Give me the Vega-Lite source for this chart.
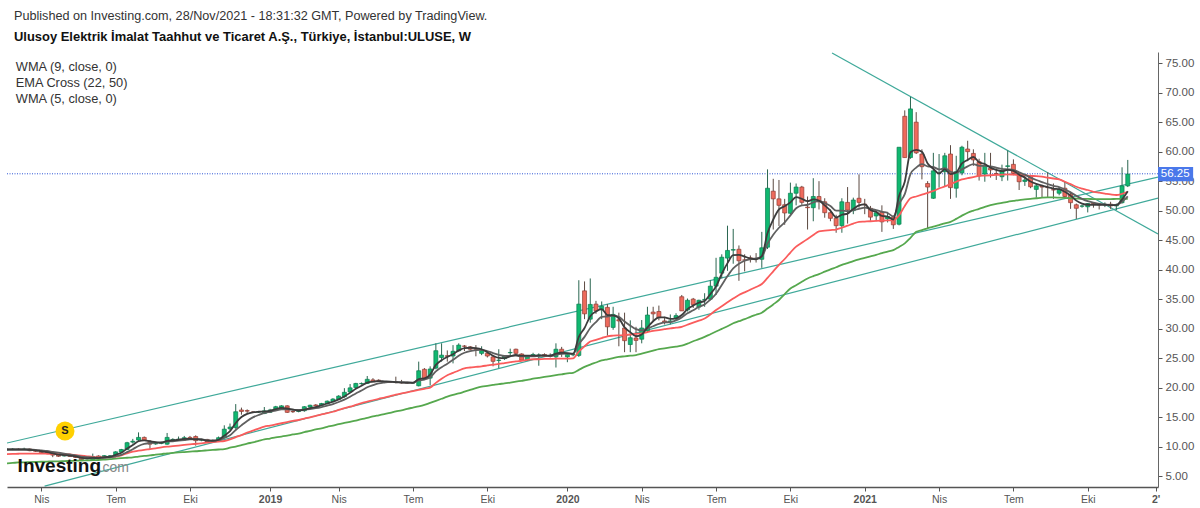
{
"$schema":"https://vega.github.io/schema/vega-lite/v6.json",
"width":1151,"height":435,
"autosize":{"type":"none"},
"padding":{"left":7,"top":52,"right":42,"bottom":21},
"background":"white",
"config":{"view":{"stroke":null},"font":"Liberation Sans"},
"title":{"text":"Published on Investing.com, 28/Nov/2021 - 18:31:32 GMT, Powered by TradingView.","subtitle":"Ulusoy Elektrik İmalat Taahhut ve Ticaret A.Ş., Türkiye, İstanbul:ULUSE, W","anchor":"start","frame":"group","dx":7,"offset":8,"font":"Liberation Sans","fontSize":12.65,"fontWeight":"normal","color":"#333","subtitleFont":"Liberation Sans","subtitleFontSize":12.95,"subtitleFontWeight":"bold","subtitleColor":"#111","subtitlePadding":8},
"datasets":{
"trends":[
{"trend":"upper","date":"2018-02-19","price":10.6},{"trend":"upper","date":"2021-12-29","price":55.7},
{"trend":"lower","date":"2018-04-06","price":3.3},{"trend":"lower","date":"2021-12-29","price":52.14},
{"trend":"falling","date":"2020-11-25","price":76.73},{"trend":"falling","date":"2021-12-29","price":46.04}
],
"notes":[
{"label":"Investing","date":"2018-03-04","price":5.7,"group":"logo"},
{"label":".com","date":"2018-06-11","price":5.7,"group":"dotcom"},
{"label":"S","date":"2018-05-01","price":12.63,"group":"signal"}
]
},
"data":{"values":[
{"date":"2018-02-19","open":9.45,"high":9.7,"low":9.35,"close":9.5,"wma9":9.5,"wma5":9.5,"ema22":8.73,"ema50":7.15},
{"date":"2018-02-26","open":9.5,"high":9.75,"low":9.4,"close":9.55,"wma9":9.5,"wma5":9.5,"ema22":8.75,"ema50":7.22},
{"date":"2018-03-05","open":9.55,"high":9.7,"low":9.4,"close":9.5,"wma9":9.5,"wma5":9.5,"ema22":8.78,"ema50":7.3},
{"date":"2018-03-12","open":9.5,"high":9.8,"low":9.4,"close":9.55,"wma9":9.5,"wma5":9.5,"ema22":8.8,"ema50":7.33},
{"date":"2018-03-19","open":9.57,"high":9.7,"low":9.2,"close":9.3,"wma9":9.5,"wma5":9.45,"ema22":8.8,"ema50":7.36},
{"date":"2018-03-26","open":9.4,"high":9.5,"low":9.1,"close":9.2,"wma9":9.45,"wma5":9.36,"ema22":8.8,"ema50":7.39},
{"date":"2018-04-02","open":9.3,"high":9.4,"low":8.85,"close":8.95,"wma9":9.35,"wma5":9.2,"ema22":8.8,"ema50":7.42},
{"date":"2018-04-09","open":9.12,"high":9.2,"low":8.75,"close":8.85,"wma9":9.25,"wma5":9.05,"ema22":8.78,"ema50":7.45},
{"date":"2018-04-16","open":8.95,"high":9.05,"low":8.2,"close":8.55,"wma9":9.1,"wma5":8.85,"ema22":8.75,"ema50":7.48},
{"date":"2018-04-23","open":8.6,"high":8.7,"low":8.25,"close":8.35,"wma9":8.95,"wma5":8.64,"ema22":8.73,"ema50":7.5},
{"date":"2018-04-30","open":8.4,"high":8.7,"low":8.3,"close":8.5,"wma9":8.8,"wma5":8.55,"ema22":8.7,"ema50":7.53},
{"date":"2018-05-07","open":8.4,"high":8.5,"low":8.25,"close":8.35,"wma9":8.65,"wma5":8.45,"ema22":8.65,"ema50":7.56},
{"date":"2018-05-14","open":8.25,"high":8.35,"low":8.05,"close":8.15,"wma9":8.5,"wma5":8.33,"ema22":8.55,"ema50":7.6},
{"date":"2018-05-21","open":8.17,"high":8.25,"low":7.65,"close":7.75,"wma9":8.3,"wma5":8.07,"ema22":8.45,"ema50":7.63},
{"date":"2018-05-28","open":7.95,"high":8.2,"low":7.8,"close":8.0,"wma9":8.2,"wma5":8.0,"ema22":8.35,"ema50":7.66},
{"date":"2018-06-04","open":7.75,"high":8.8,"low":7.7,"close":8.3,"wma9":8.15,"wma5":8.07,"ema22":8.25,"ema50":7.69},
{"date":"2018-06-11","open":8.4,"high":8.5,"low":7.9,"close":8.0,"wma9":8.1,"wma5":8.05,"ema22":8.17,"ema50":7.72},
{"date":"2018-06-18","open":8.05,"high":8.55,"low":8.0,"close":8.45,"wma9":8.1,"wma5":8.2,"ema22":8.18,"ema50":7.78},
{"date":"2018-06-25","open":8.4,"high":8.55,"low":8.3,"close":8.4,"wma9":8.15,"wma5":8.27,"ema22":8.22,"ema50":7.85},
{"date":"2018-07-02","open":8.5,"high":9.2,"low":8.4,"close":9.1,"wma9":8.35,"wma5":8.6,"ema22":8.28,"ema50":7.95},
{"date":"2018-07-09","open":9.05,"high":9.6,"low":9.0,"close":9.5,"wma9":8.6,"wma5":8.95,"ema22":8.5,"ema50":8.03},
{"date":"2018-07-16","open":9.5,"high":10.8,"low":9.4,"close":10.65,"wma9":9.05,"wma5":9.65,"ema22":8.85,"ema50":8.1},
{"date":"2018-07-23","open":10.75,"high":11.3,"low":10.5,"close":10.9,"wma9":9.55,"wma5":10.25,"ema22":9.12,"ema50":8.17},
{"date":"2018-07-30","open":11.1,"high":12.4,"low":10.9,"close":11.55,"wma9":10.1,"wma5":10.9,"ema22":9.3,"ema50":8.3},
{"date":"2018-08-06","open":11.55,"high":11.7,"low":11.0,"close":11.1,"wma9":10.45,"wma5":11.05,"ema22":9.45,"ema50":8.4},
{"date":"2018-08-13","open":10.9,"high":11.1,"low":9.6,"close":10.4,"wma9":10.6,"wma5":10.9,"ema22":9.57,"ema50":8.5},
{"date":"2018-08-20","open":10.45,"high":10.7,"low":10.3,"close":10.5,"wma9":10.65,"wma5":10.75,"ema22":9.7,"ema50":8.62},
{"date":"2018-08-27","open":10.55,"high":10.8,"low":10.4,"close":10.6,"wma9":10.7,"wma5":10.65,"ema22":9.85,"ema50":8.73},
{"date":"2018-09-03","open":10.4,"high":12.3,"low":10.3,"close":11.55,"wma9":10.85,"wma5":10.95,"ema22":9.97,"ema50":8.85},
{"date":"2018-09-10","open":11.2,"high":11.4,"low":11.0,"close":11.2,"wma9":10.9,"wma5":11.05,"ema22":10.07,"ema50":8.92},
{"date":"2018-09-17","open":11.2,"high":11.7,"low":11.1,"close":11.25,"wma9":11.0,"wma5":11.15,"ema22":10.17,"ema50":9.0},
{"date":"2018-09-24","open":11.2,"high":11.8,"low":11.1,"close":11.5,"wma9":11.1,"wma5":11.3,"ema22":10.27,"ema50":9.07},
{"date":"2018-10-01","open":11.55,"high":11.8,"low":11.2,"close":11.3,"wma9":11.2,"wma5":11.3,"ema22":10.37,"ema50":9.14},
{"date":"2018-10-08","open":11.7,"high":11.9,"low":10.15,"close":11.0,"wma9":11.2,"wma5":11.25,"ema22":10.47,"ema50":9.2},
{"date":"2018-10-15","open":11.1,"high":11.3,"low":10.9,"close":11.1,"wma9":11.2,"wma5":11.2,"ema22":10.55,"ema50":9.28},
{"date":"2018-10-22","open":11.2,"high":11.3,"low":10.7,"close":10.8,"wma9":11.1,"wma5":11.0,"ema22":10.65,"ema50":9.35},
{"date":"2018-10-29","open":10.9,"high":11.2,"low":10.7,"close":10.9,"wma9":11.05,"wma5":10.95,"ema22":10.75,"ema50":9.42},
{"date":"2018-11-05","open":11.1,"high":11.7,"low":11.0,"close":11.5,"wma9":11.1,"wma5":11.15,"ema22":10.85,"ema50":9.5},
{"date":"2018-11-12","open":11.55,"high":13.6,"low":11.4,"close":12.95,"wma9":11.45,"wma5":11.85,"ema22":10.94,"ema50":9.57},
{"date":"2018-11-19","open":13.0,"high":13.9,"low":12.8,"close":13.3,"wma9":11.9,"wma5":12.6,"ema22":11.2,"ema50":9.8},
{"date":"2018-11-26","open":13.2,"high":17.2,"low":13.0,"close":15.9,"wma9":12.8,"wma5":14.0,"ema22":11.6,"ema50":10.0},
{"date":"2018-12-03","open":16.2,"high":16.6,"low":15.4,"close":15.95,"wma9":13.6,"wma5":15.0,"ema22":11.95,"ema50":10.25},
{"date":"2018-12-10","open":16.1,"high":16.3,"low":15.7,"close":16.0,"wma9":14.35,"wma5":15.55,"ema22":12.35,"ema50":10.5},
{"date":"2018-12-17","open":15.85,"high":16.0,"low":15.7,"close":15.8,"wma9":14.95,"wma5":15.8,"ema22":12.7,"ema50":10.7},
{"date":"2018-12-24","open":15.85,"high":16.0,"low":15.7,"close":15.9,"wma9":15.35,"wma5":15.9,"ema22":13.05,"ema50":10.95},
{"date":"2018-12-31","open":15.6,"high":16.7,"low":15.5,"close":16.05,"wma9":15.7,"wma5":15.95,"ema22":13.37,"ema50":11.2},
{"date":"2019-01-07","open":15.8,"high":16.4,"low":15.7,"close":16.2,"wma9":15.9,"wma5":16.05,"ema22":13.55,"ema50":11.35},
{"date":"2019-01-14","open":16.2,"high":16.9,"low":16.1,"close":16.75,"wma9":16.1,"wma5":16.35,"ema22":13.75,"ema50":11.55},
{"date":"2019-01-21","open":16.5,"high":17.0,"low":16.4,"close":16.9,"wma9":16.3,"wma5":16.55,"ema22":13.95,"ema50":11.7},
{"date":"2019-01-28","open":16.9,"high":17.0,"low":15.7,"close":15.8,"wma9":16.3,"wma5":16.45,"ema22":14.15,"ema50":11.85},
{"date":"2019-02-04","open":15.95,"high":16.1,"low":15.7,"close":15.9,"wma9":16.25,"wma5":16.25,"ema22":14.35,"ema50":12.05},
{"date":"2019-02-11","open":15.95,"high":16.3,"low":15.8,"close":16.0,"wma9":16.2,"wma5":16.1,"ema22":14.5,"ema50":12.2},
{"date":"2019-02-18","open":16.07,"high":16.85,"low":15.9,"close":16.75,"wma9":16.25,"wma5":16.25,"ema22":14.75,"ema50":12.45},
{"date":"2019-02-25","open":16.7,"high":17.1,"low":16.6,"close":17.0,"wma9":16.35,"wma5":16.5,"ema22":14.95,"ema50":12.65},
{"date":"2019-03-04","open":17.05,"high":17.2,"low":16.8,"close":16.9,"wma9":16.5,"wma5":16.7,"ema22":15.2,"ema50":12.9},
{"date":"2019-03-11","open":17.0,"high":17.4,"low":16.9,"close":17.3,"wma9":16.7,"wma5":17.0,"ema22":15.45,"ema50":13.1},
{"date":"2019-03-18","open":17.26,"high":17.8,"low":17.2,"close":17.7,"wma9":16.95,"wma5":17.3,"ema22":15.65,"ema50":13.35},
{"date":"2019-03-25","open":17.6,"high":18.2,"low":17.5,"close":18.05,"wma9":17.2,"wma5":17.6,"ema22":15.9,"ema50":13.55},
{"date":"2019-04-01","open":18.0,"high":18.7,"low":17.9,"close":18.55,"wma9":17.55,"wma5":18.0,"ema22":16.2,"ema50":13.8},
{"date":"2019-04-08","open":18.45,"high":19.9,"low":18.3,"close":19.2,"wma9":17.95,"wma5":18.5,"ema22":16.5,"ema50":14.0},
{"date":"2019-04-15","open":19.25,"high":20.6,"low":19.1,"close":19.95,"wma9":18.45,"wma5":19.1,"ema22":16.75,"ema50":14.2},
{"date":"2019-04-22","open":20.0,"high":20.8,"low":19.9,"close":20.7,"wma9":19.0,"wma5":19.8,"ema22":17.05,"ema50":14.4},
{"date":"2019-04-29","open":20.65,"high":20.85,"low":20.5,"close":20.7,"wma9":19.5,"wma5":20.3,"ema22":17.35,"ema50":14.65},
{"date":"2019-05-06","open":20.7,"high":21.96,"low":20.6,"close":21.4,"wma9":20.05,"wma5":20.85,"ema22":17.6,"ema50":14.85},
{"date":"2019-05-13","open":21.3,"high":21.6,"low":20.9,"close":21.0,"wma9":20.4,"wma5":21.0,"ema22":17.85,"ema50":15.1},
{"date":"2019-05-20","open":21.25,"high":21.4,"low":21.0,"close":21.2,"wma9":20.7,"wma5":21.1,"ema22":18.1,"ema50":15.3},
{"date":"2019-05-27","open":21.0,"high":21.1,"low":20.8,"close":20.9,"wma9":20.85,"wma5":21.05,"ema22":18.3,"ema50":15.5},
{"date":"2019-06-03","open":21.0,"high":21.1,"low":20.8,"close":20.9,"wma9":20.95,"wma5":21.0,"ema22":18.55,"ema50":15.7},
{"date":"2019-06-10","open":20.9,"high":21.85,"low":20.75,"close":20.85,"wma9":20.95,"wma5":20.9,"ema22":18.8,"ema50":15.95},
{"date":"2019-06-17","open":20.85,"high":21.3,"low":20.7,"close":20.8,"wma9":20.9,"wma5":20.85,"ema22":19.0,"ema50":16.15},
{"date":"2019-06-24","open":20.85,"high":20.95,"low":20.7,"close":20.8,"wma9":20.9,"wma5":20.8,"ema22":19.2,"ema50":16.4},
{"date":"2019-07-01","open":20.8,"high":20.95,"low":20.7,"close":20.8,"wma9":20.85,"wma5":20.8,"ema22":19.4,"ema50":16.6},
{"date":"2019-07-08","open":20.3,"high":24.4,"low":20.2,"close":22.85,"wma9":21.2,"wma5":21.45,"ema22":19.6,"ema50":16.8},
{"date":"2019-07-15","open":23.1,"high":23.3,"low":21.4,"close":21.6,"wma9":21.35,"wma5":21.55,"ema22":19.8,"ema50":17.05},
{"date":"2019-07-22","open":21.6,"high":23.6,"low":20.4,"close":23.15,"wma9":21.75,"wma5":22.2,"ema22":20.0,"ema50":17.4},
{"date":"2019-07-29","open":23.3,"high":27.5,"low":23.1,"close":26.25,"wma9":22.75,"wma5":23.85,"ema22":20.8,"ema50":17.75},
{"date":"2019-08-05","open":25.1,"high":27.5,"low":24.4,"close":25.5,"wma9":23.45,"wma5":24.65,"ema22":21.5,"ema50":18.1},
{"date":"2019-08-12","open":25.4,"high":26.3,"low":24.4,"close":25.3,"wma9":24.05,"wma5":25.2,"ema22":22.1,"ema50":18.45},
{"date":"2019-08-19","open":25.35,"high":27.2,"low":24.1,"close":26.15,"wma9":24.7,"wma5":25.65,"ema22":22.5,"ema50":18.75},
{"date":"2019-08-26","open":26.25,"high":27.5,"low":26.1,"close":27.2,"wma9":25.4,"wma5":26.3,"ema22":22.9,"ema50":19.0},
{"date":"2019-09-02","open":27.05,"high":27.2,"low":26.2,"close":27.0,"wma9":25.9,"wma5":26.7,"ema22":23.25,"ema50":19.3},
{"date":"2019-09-09","open":26.9,"high":27.05,"low":26.3,"close":26.5,"wma9":26.2,"wma5":26.75,"ema22":23.4,"ema50":19.6},
{"date":"2019-09-16","open":26.55,"high":27.2,"low":25.3,"close":26.5,"wma9":26.35,"wma5":26.7,"ema22":23.5,"ema50":19.9},
{"date":"2019-09-23","open":25.8,"high":27.0,"low":25.5,"close":26.25,"wma9":26.4,"wma5":26.5,"ema22":23.6,"ema50":20.15},
{"date":"2019-09-30","open":25.8,"high":26.0,"low":25.1,"close":25.35,"wma9":26.2,"wma5":26.0,"ema22":23.75,"ema50":20.3},
{"date":"2019-10-07","open":25.2,"high":25.4,"low":23.6,"close":24.45,"wma9":25.85,"wma5":25.4,"ema22":23.9,"ema50":20.45},
{"date":"2019-10-14","open":24.6,"high":26.5,"low":23.3,"close":24.65,"wma9":25.55,"wma5":25.05,"ema22":24.0,"ema50":20.6},
{"date":"2019-10-21","open":24.9,"high":25.5,"low":24.7,"close":25.35,"wma9":25.35,"wma5":25.0,"ema22":24.15,"ema50":20.7},
{"date":"2019-10-28","open":25.9,"high":26.6,"low":25.4,"close":25.95,"wma9":25.35,"wma5":25.3,"ema22":24.3,"ema50":20.85},
{"date":"2019-11-04","open":26.5,"high":26.6,"low":25.6,"close":25.8,"wma9":25.4,"wma5":25.55,"ema22":24.45,"ema50":21.0},
{"date":"2019-11-11","open":25.7,"high":25.8,"low":24.5,"close":24.65,"wma9":25.3,"wma5":25.4,"ema22":24.55,"ema50":21.15},
{"date":"2019-11-18","open":24.65,"high":25.5,"low":24.5,"close":25.35,"wma9":25.3,"wma5":25.4,"ema22":24.7,"ema50":21.3},
{"date":"2019-11-25","open":25.4,"high":25.9,"low":25.3,"close":25.6,"wma9":25.3,"wma5":25.4,"ema22":24.8,"ema50":21.5},
{"date":"2019-12-02","open":25.5,"high":25.8,"low":23.7,"close":25.5,"wma9":25.35,"wma5":25.45,"ema22":24.8,"ema50":21.65},
{"date":"2019-12-09","open":25.6,"high":25.8,"low":25.2,"close":25.3,"wma9":25.4,"wma5":25.45,"ema22":24.85,"ema50":21.8},
{"date":"2019-12-16","open":25.35,"high":25.8,"low":25.1,"close":25.3,"wma9":25.35,"wma5":25.4,"ema22":24.85,"ema50":21.95},
{"date":"2019-12-23","open":25.2,"high":27.5,"low":23.4,"close":26.5,"wma9":25.55,"wma5":25.75,"ema22":24.9,"ema50":22.1},
{"date":"2019-12-30","open":26.5,"high":26.9,"low":25.2,"close":26.0,"wma9":25.7,"wma5":25.9,"ema22":24.9,"ema50":22.25},
{"date":"2020-01-06","open":25.2,"high":25.7,"low":24.3,"close":25.6,"wma9":25.75,"wma5":25.85,"ema22":24.9,"ema50":22.4},
{"date":"2020-01-13","open":25.55,"high":25.8,"low":25.3,"close":25.6,"wma9":25.7,"wma5":25.75,"ema22":24.95,"ema50":22.5},
{"date":"2020-01-20","open":25.45,"high":38.2,"low":25.2,"close":34.15,"wma9":27.4,"wma5":28.6,"ema22":26.1,"ema50":23.0},
{"date":"2020-01-27","open":36.4,"high":38.0,"low":31.6,"close":32.5,"wma9":28.6,"wma5":30.1,"ema22":27.0,"ema50":23.5},
{"date":"2020-02-03","open":31.6,"high":38.5,"low":31.0,"close":34.1,"wma9":30.1,"wma5":32.1,"ema22":27.8,"ema50":23.9},
{"date":"2020-02-10","open":34.15,"high":34.7,"low":32.5,"close":33.0,"wma9":31.1,"wma5":32.9,"ema22":28.1,"ema50":24.25},
{"date":"2020-02-17","open":33.2,"high":34.6,"low":31.6,"close":33.8,"wma9":32.0,"wma5":33.3,"ema22":28.4,"ema50":24.6},
{"date":"2020-02-24","open":33.6,"high":34.15,"low":28.8,"close":30.3,"wma9":32.05,"wma5":32.3,"ema22":28.7,"ema50":24.8},
{"date":"2020-03-02","open":30.2,"high":33.7,"low":29.8,"close":32.4,"wma9":32.2,"wma5":32.25,"ema22":28.8,"ema50":25.0},
{"date":"2020-03-09","open":31.5,"high":32.7,"low":27.0,"close":31.3,"wma9":32.0,"wma5":31.75,"ema22":28.85,"ema50":25.2},
{"date":"2020-03-16","open":30.1,"high":32.7,"low":26.0,"close":27.95,"wma9":31.2,"wma5":30.2,"ema22":28.9,"ema50":25.3},
{"date":"2020-03-23","open":27.3,"high":31.4,"low":26.0,"close":28.45,"wma9":30.5,"wma5":29.4,"ema22":29.0,"ema50":25.4},
{"date":"2020-03-30","open":28.4,"high":30.3,"low":26.0,"close":28.0,"wma9":29.9,"wma5":28.7,"ema22":29.1,"ema50":25.5},
{"date":"2020-04-06","open":28.2,"high":31.45,"low":27.5,"close":30.1,"wma9":29.7,"wma5":29.0,"ema22":29.2,"ema50":25.75},
{"date":"2020-04-13","open":29.6,"high":33.7,"low":29.3,"close":32.3,"wma9":30.0,"wma5":30.2,"ema22":29.4,"ema50":26.0},
{"date":"2020-04-20","open":32.8,"high":33.7,"low":31.2,"close":32.5,"wma9":30.4,"wma5":31.25,"ema22":29.6,"ema50":26.25},
{"date":"2020-04-27","open":32.9,"high":33.9,"low":31.4,"close":31.85,"wma9":30.8,"wma5":31.9,"ema22":29.75,"ema50":26.5},
{"date":"2020-05-04","open":31.3,"high":32.0,"low":30.7,"close":31.1,"wma9":31.05,"wma5":31.9,"ema22":29.9,"ema50":26.65},
{"date":"2020-05-11","open":31.1,"high":32.4,"low":30.7,"close":31.3,"wma9":31.1,"wma5":31.65,"ema22":30.05,"ema50":26.8},
{"date":"2020-05-18","open":31.7,"high":32.6,"low":31.4,"close":32.2,"wma9":31.4,"wma5":31.75,"ema22":30.15,"ema50":26.95},
{"date":"2020-05-25","open":35.4,"high":35.7,"low":33.0,"close":33.0,"wma9":31.9,"wma5":32.3,"ema22":30.3,"ema50":27.1},
{"date":"2020-06-01","open":33.15,"high":35.1,"low":32.9,"close":34.8,"wma9":32.6,"wma5":33.3,"ema22":30.65,"ema50":27.45},
{"date":"2020-06-08","open":35.0,"high":35.2,"low":33.5,"close":34.05,"wma9":33.1,"wma5":33.9,"ema22":31.0,"ema50":27.85},
{"date":"2020-06-15","open":33.65,"high":34.9,"low":33.2,"close":34.8,"wma9":33.7,"wma5":34.4,"ema22":31.35,"ema50":28.2},
{"date":"2020-06-22","open":34.9,"high":36.0,"low":33.7,"close":34.95,"wma9":34.1,"wma5":34.7,"ema22":31.7,"ema50":28.6},
{"date":"2020-06-29","open":35.0,"high":38.2,"low":34.8,"close":37.2,"wma9":34.9,"wma5":35.85,"ema22":32.4,"ema50":29.05},
{"date":"2020-07-06","open":37.2,"high":42.0,"low":35.7,"close":38.7,"wma9":35.9,"wma5":37.15,"ema22":33.15,"ema50":29.5},
{"date":"2020-07-13","open":39.4,"high":42.6,"low":38.5,"close":42.1,"wma9":37.4,"wma5":39.3,"ema22":33.8,"ema50":29.95},
{"date":"2020-07-20","open":41.95,"high":47.45,"low":39.8,"close":43.25,"wma9":38.9,"wma5":41.1,"ema22":34.45,"ema50":30.4},
{"date":"2020-07-27","open":43.3,"high":46.9,"low":41.0,"close":43.4,"wma9":40.2,"wma5":42.45,"ema22":35.1,"ema50":30.9},
{"date":"2020-08-03","open":43.45,"high":44.1,"low":38.1,"close":41.5,"wma9":41.0,"wma5":42.5,"ema22":35.7,"ema50":31.25},
{"date":"2020-08-10","open":41.65,"high":42.6,"low":39.7,"close":41.6,"wma9":41.5,"wma5":42.2,"ema22":36.15,"ema50":31.6},
{"date":"2020-08-17","open":42.0,"high":42.4,"low":41.2,"close":41.7,"wma9":41.8,"wma5":41.9,"ema22":36.6,"ema50":32.0},
{"date":"2020-08-24","open":41.85,"high":42.8,"low":41.2,"close":41.8,"wma9":41.9,"wma5":41.75,"ema22":37.05,"ema50":32.35},
{"date":"2020-08-31","open":41.75,"high":46.4,"low":40.3,"close":43.7,"wma9":42.2,"wma5":42.3,"ema22":37.55,"ema50":32.7},
{"date":"2020-09-07","open":43.8,"high":57.0,"low":43.5,"close":53.8,"wma9":44.4,"wma5":46.2,"ema22":38.6,"ema50":33.4},
{"date":"2020-09-14","open":53.3,"high":55.4,"low":46.8,"close":52.0,"wma9":45.9,"wma5":48.5,"ema22":39.7,"ema50":34.1},
{"date":"2020-09-21","open":52.0,"high":55.2,"low":47.4,"close":50.9,"wma9":47.1,"wma5":50.2,"ema22":40.8,"ema50":34.85},
{"date":"2020-09-28","open":51.0,"high":52.0,"low":47.6,"close":49.6,"wma9":48.0,"wma5":50.75,"ema22":41.8,"ema50":35.85},
{"date":"2020-10-05","open":49.55,"high":54.75,"low":49.4,"close":52.95,"wma9":49.2,"wma5":51.4,"ema22":42.9,"ema50":36.8},
{"date":"2020-10-12","open":52.95,"high":54.6,"low":50.9,"close":54.0,"wma9":50.4,"wma5":52.3,"ema22":43.9,"ema50":37.35},
{"date":"2020-10-19","open":54.0,"high":54.2,"low":51.0,"close":51.4,"wma9":50.9,"wma5":52.0,"ema22":44.55,"ema50":37.95},
{"date":"2020-10-26","open":50.6,"high":52.4,"low":46.8,"close":50.5,"wma9":51.0,"wma5":51.6,"ema22":45.2,"ema50":38.5},
{"date":"2020-11-02","open":50.5,"high":55.5,"low":48.2,"close":52.4,"wma9":51.4,"wma5":51.9,"ema22":45.85,"ema50":38.9},
{"date":"2020-11-09","open":52.4,"high":55.0,"low":50.2,"close":51.5,"wma9":51.6,"wma5":51.7,"ema22":46.5,"ema50":39.25},
{"date":"2020-11-16","open":51.5,"high":52.1,"low":48.8,"close":49.65,"wma9":51.3,"wma5":50.9,"ema22":46.6,"ema50":39.65},
{"date":"2020-11-23","open":49.65,"high":50.2,"low":48.2,"close":48.7,"wma9":50.8,"wma5":50.0,"ema22":46.7,"ema50":40.05},
{"date":"2020-11-30","open":48.7,"high":49.3,"low":46.25,"close":47.45,"wma9":50.0,"wma5":48.85,"ema22":46.8,"ema50":40.4},
{"date":"2020-12-07","open":47.45,"high":52.1,"low":46.25,"close":51.5,"wma9":50.0,"wma5":49.3,"ema22":47.1,"ema50":40.8},
{"date":"2020-12-14","open":51.4,"high":54.0,"low":47.8,"close":50.1,"wma9":49.9,"wma5":49.5,"ema22":47.45,"ema50":41.1},
{"date":"2020-12-21","open":50.0,"high":52.2,"low":49.4,"close":51.8,"wma9":50.1,"wma5":50.3,"ema22":47.8,"ema50":41.45},
{"date":"2020-12-28","open":52.1,"high":56.15,"low":50.5,"close":51.4,"wma9":50.3,"wma5":50.9,"ema22":48.1,"ema50":41.75},
{"date":"2021-01-04","open":51.1,"high":52.0,"low":49.4,"close":51.0,"wma9":50.5,"wma5":51.05,"ema22":48.15,"ema50":42.0},
{"date":"2021-01-11","open":50.4,"high":50.8,"low":48.3,"close":48.9,"wma9":50.3,"wma5":50.1,"ema22":48.2,"ema50":42.25},
{"date":"2021-01-18","open":49.1,"high":49.8,"low":48.2,"close":49.65,"wma9":50.1,"wma5":49.8,"ema22":48.25,"ema50":42.5},
{"date":"2021-01-25","open":49.8,"high":50.9,"low":46.4,"close":48.1,"wma9":49.8,"wma5":49.1,"ema22":48.3,"ema50":42.8},
{"date":"2021-02-01","open":48.6,"high":49.8,"low":48.0,"close":49.0,"wma9":49.6,"wma5":49.0,"ema22":48.35,"ema50":43.05},
{"date":"2021-02-08","open":48.9,"high":49.2,"low":46.9,"close":47.6,"wma9":49.0,"wma5":48.5,"ema22":48.4,"ema50":43.3},
{"date":"2021-02-15","open":47.7,"high":60.75,"low":47.5,"close":60.75,"wma9":51.2,"wma5":52.5,"ema22":49.2,"ema50":43.85},
{"date":"2021-02-22","open":66.0,"high":67.0,"low":59.0,"close":59.0,"wma9":52.8,"wma5":54.9,"ema22":50.8,"ema50":44.45},
{"date":"2021-03-01","open":59.0,"high":69.3,"low":58.8,"close":67.25,"wma9":56.2,"wma5":59.9,"ema22":52.1,"ema50":45.4},
{"date":"2021-03-08","open":65.0,"high":66.7,"low":59.6,"close":59.8,"wma9":57.3,"wma5":60.3,"ema22":52.4,"ema50":46.4},
{"date":"2021-03-15","open":59.6,"high":60.4,"low":55.3,"close":57.45,"wma9":57.9,"wma5":60.0,"ema22":52.7,"ema50":46.7},
{"date":"2021-03-22","open":54.6,"high":55.0,"low":47.0,"close":54.0,"wma9":57.5,"wma5":58.0,"ema22":53.0,"ema50":47.0},
{"date":"2021-03-29","open":52.1,"high":59.8,"low":52.0,"close":56.75,"wma9":57.4,"wma5":57.1,"ema22":53.35,"ema50":47.3},
{"date":"2021-04-05","open":56.3,"high":59.6,"low":53.9,"close":56.3,"wma9":57.0,"wma5":56.3,"ema22":53.75,"ema50":47.55},
{"date":"2021-04-12","open":56.6,"high":59.8,"low":54.0,"close":59.3,"wma9":57.2,"wma5":57.0,"ema22":54.1,"ema50":47.85},
{"date":"2021-04-19","open":59.6,"high":61.1,"low":52.0,"close":53.9,"wma9":56.6,"wma5":56.2,"ema22":54.5,"ema50":48.1},
{"date":"2021-04-26","open":53.8,"high":59.3,"low":52.2,"close":56.6,"wma9":56.4,"wma5":56.5,"ema22":54.9,"ema50":48.6},
{"date":"2021-05-03","open":56.4,"high":61.0,"low":56.0,"close":60.75,"wma9":57.0,"wma5":58.0,"ema22":55.3,"ema50":49.15},
{"date":"2021-05-10","open":60.45,"high":61.85,"low":58.4,"close":60.0,"wma9":57.5,"wma5":58.6,"ema22":55.5,"ema50":49.65},
{"date":"2021-05-17","open":59.7,"high":60.4,"low":57.6,"close":58.6,"wma9":57.9,"wma5":59.1,"ema22":55.7,"ema50":50.0},
{"date":"2021-05-24","open":58.3,"high":58.8,"low":55.1,"close":55.9,"wma9":57.6,"wma5":58.2,"ema22":55.9,"ema50":50.3},
{"date":"2021-05-31","open":56.2,"high":59.8,"low":54.9,"close":57.7,"wma9":57.6,"wma5":57.9,"ema22":55.95,"ema50":50.65},
{"date":"2021-06-07","open":57.2,"high":59.8,"low":55.6,"close":56.9,"wma9":57.5,"wma5":57.3,"ema22":56.0,"ema50":50.95},
{"date":"2021-06-14","open":56.3,"high":57.2,"low":55.2,"close":56.2,"wma9":57.3,"wma5":56.9,"ema22":56.05,"ema50":51.15},
{"date":"2021-06-21","open":55.75,"high":57.8,"low":55.0,"close":56.75,"wma9":57.1,"wma5":56.7,"ema22":56.1,"ema50":51.3},
{"date":"2021-06-28","open":57.5,"high":60.2,"low":55.1,"close":57.6,"wma9":57.0,"wma5":56.9,"ema22":56.15,"ema50":51.5},
{"date":"2021-07-05","open":57.85,"high":58.7,"low":56.0,"close":56.3,"wma9":56.9,"wma5":56.75,"ema22":56.1,"ema50":51.65},
{"date":"2021-07-12","open":56.2,"high":56.4,"low":53.5,"close":54.9,"wma9":56.5,"wma5":56.1,"ema22":56.05,"ema50":51.8},
{"date":"2021-07-19","open":54.95,"high":56.0,"low":54.2,"close":55.2,"wma9":56.1,"wma5":55.6,"ema22":56.0,"ema50":51.9},
{"date":"2021-07-26","open":55.9,"high":56.1,"low":53.8,"close":54.05,"wma9":55.6,"wma5":54.95,"ema22":55.9,"ema50":52.0},
{"date":"2021-08-02","open":53.6,"high":54.5,"low":52.2,"close":54.2,"wma9":55.2,"wma5":54.55,"ema22":55.85,"ema50":52.1},
{"date":"2021-08-09","open":54.2,"high":54.4,"low":52.3,"close":54.0,"wma9":54.85,"wma5":54.25,"ema22":55.75,"ema50":52.2},
{"date":"2021-08-16","open":53.95,"high":56.5,"low":52.3,"close":53.9,"wma9":54.5,"wma5":54.0,"ema22":55.6,"ema50":52.25},
{"date":"2021-08-23","open":53.55,"high":54.6,"low":52.0,"close":53.5,"wma9":54.2,"wma5":53.75,"ema22":55.45,"ema50":52.25},
{"date":"2021-08-30","open":52.95,"high":54.0,"low":52.6,"close":53.65,"wma9":54.0,"wma5":53.65,"ema22":55.3,"ema50":52.2},
{"date":"2021-09-06","open":53.8,"high":55.0,"low":52.2,"close":52.4,"wma9":53.6,"wma5":53.2,"ema22":54.9,"ema50":52.15},
{"date":"2021-09-13","open":52.8,"high":53.2,"low":50.3,"close":51.35,"wma9":53.1,"wma5":52.55,"ema22":54.5,"ema50":52.1},
{"date":"2021-09-20","open":51.0,"high":51.2,"low":48.6,"close":50.4,"wma9":52.5,"wma5":51.7,"ema22":54.05,"ema50":52.05},
{"date":"2021-09-27","open":50.75,"high":51.0,"low":50.5,"close":50.8,"wma9":52.0,"wma5":51.2,"ema22":53.75,"ema50":52.0},
{"date":"2021-10-04","open":50.65,"high":51.3,"low":49.7,"close":51.2,"wma9":51.6,"wma5":51.0,"ema22":53.5,"ema50":52.0},
{"date":"2021-10-11","open":51.2,"high":51.4,"low":50.5,"close":51.1,"wma9":51.35,"wma5":51.0,"ema22":53.2,"ema50":51.95},
{"date":"2021-10-18","open":51.1,"high":51.3,"low":50.2,"close":50.95,"wma9":51.15,"wma5":51.0,"ema22":53.05,"ema50":51.95},
{"date":"2021-10-25","open":51.0,"high":51.4,"low":50.6,"close":51.0,"wma9":51.05,"wma5":51.0,"ema22":52.9,"ema50":51.95},
{"date":"2021-11-01","open":51.1,"high":51.5,"low":50.3,"close":50.8,"wma9":50.95,"wma5":50.95,"ema22":52.75,"ema50":51.95},
{"date":"2021-11-08","open":50.8,"high":51.2,"low":50.1,"close":51.0,"wma9":50.95,"wma5":50.95,"ema22":52.65,"ema50":52.0},
{"date":"2021-11-15","open":51.35,"high":57.35,"low":51.2,"close":54.2,"wma9":51.5,"wma5":51.9,"ema22":52.85,"ema50":52.0},
{"date":"2021-11-22","open":54.2,"high":58.6,"low":54.0,"close":56.2,"wma9":52.4,"wma5":53.3,"ema22":53.2,"ema50":52.0}
]},
"encoding":{
"x":{"field":"date","type":"temporal","title":null,
"scale":{"type":"utc","domain":["2018-02-19","2021-12-29"],"padding":0,"nice":false},
"axis":{"grid":false,"values":["2018-04-02","2018-07-02","2018-10-01","2019-01-07","2019-04-01","2019-07-01","2019-09-30","2020-01-06","2020-04-06","2020-07-06","2020-10-05","2021-01-04","2021-04-05","2021-07-05","2021-10-04","2021-12-26"],
"labelExpr":"utcmonth(datum.value)==0?utcyear(datum.value):utcmonth(datum.value)==3?'Nis':utcmonth(datum.value)==6?'Tem':utcmonth(datum.value)==11?'2\\'':'Eki'",
"labelFontWeight":{"condition":{"test":"utcmonth(datum.value)==0||utcmonth(datum.value)==11","value":"bold"},"value":"normal"},
"labelColor":"#555","labelFontSize":10.5,"labelFont":"Liberation Sans","labelOverlap":false,"labelFlush":false,"labelPadding":3,"tickColor":"#555","tickSize":4,"domainColor":"#555","domainWidth":1.5}}
},
"layer":[
{"data":{"name":"trends"},"mark":{"type":"line","color":"#3fa99a","strokeWidth":1.2,"clip":true},
"encoding":{"y":{"field":"price","type":"quantitative","title":null,"scale":{"domain":[3.14,76.9],"padding":0,"nice":false,"zero":false},
"axis":{"orient":"right","grid":false,"values":[5,10,15,20,25,30,35,40,45,50,55,60,65,70,75],"tickCount":30,"format":".2f","labelOverlap":false,"labelColor":"#555","labelFontSize":11.5,"labelFont":"Liberation Sans","labelPadding":3,"tickColor":"#555","tickSize":4,"domainColor":"#666","domainWidth":1,"title":null}},
"detail":{"field":"trend"}}},
{"data":{"values":[{"start":"2018-02-19","end":"2021-12-29","price":56.25}]},"mark":{"type":"rule","color":"#2f55d4","strokeWidth":1,"strokeDash":[1,1.5]},"encoding":{"x":{"field":"start","type":"temporal"},"x2":{"field":"end"},"y":{"field":"price","type":"quantitative"}}},
{"mark":{"type":"rule","strokeWidth":1,"clip":true},"encoding":{"y":{"field":"low","type":"quantitative"},"y2":{"field":"high"},"stroke":{"condition":{"test":"datum.close>=datum.open","value":"#2a6650"},"value":"#5c4a42"}}},
{"mark":{"type":"bar","size":4,"strokeWidth":0.7,"clip":true},"encoding":{"y":{"field":"open","type":"quantitative","scale":{"domain":[3.14,76.9],"padding":0,"nice":false,"zero":false}},"y2":{"field":"close"},"fill":{"condition":{"test":"datum.close>=datum.open","value":"#10b870"},"value":"#ee6a5c"},"stroke":{"condition":{"test":"datum.close>=datum.open","value":"#0c7c50"},"value":"#8f3c34"}}},
{"transform":[{"fold":["ema50","ema22","wma9","wma5"],"as":["series","level"]}],
"mark":{"type":"line","strokeWidth":1.8,"clip":true,"interpolate":"monotone"},
"encoding":{"y":{"field":"level","type":"quantitative"},
"stroke":{"field":"series","type":"nominal","scale":{"domain":["wma9","ema22","ema50","wma5"],"range":["#606060","#fa5c5c","#56a84e","#3c3c3c"]},
"legend":{"title":null,"orient":"none","legendX":-7,"legendY":9,"values":["wma9","ema22","wma5"],"labelExpr":"{wma9:'WMA (9, close, 0)',ema22:'EMA Cross (22, 50)',wma5:'WMA (5, close, 0)'}[datum.value]","symbolOpacity":0,"symbolSize":1,"labelOffset":3,"labelFontSize":12.8,"labelFont":"Liberation Sans","labelColor":"#333","rowPadding":2,"symbolType":"stroke"}},
"order":{"field":"series"}}},
{"data":{"name":"notes"},"transform":[{"filter":"datum.group=='signal'"}],"mark":{"type":"circle","size":360,"opacity":1,"color":"#ffd000"},"encoding":{"y":{"field":"price","type":"quantitative"}}},
{"data":{"name":"notes"},"transform":[{"filter":"datum.group=='signal'"}],"mark":{"type":"text","fontWeight":"bold","fontSize":11,"color":"#222","align":"center","baseline":"middle"},"encoding":{"y":{"field":"price","type":"quantitative"},"text":{"field":"label"}}},
{"data":{"name":"notes"},"transform":[{"filter":"datum.group=='logo'"}],"mark":{"type":"text","fontWeight":"bold","fontSize":19,"color":"#111","align":"left","baseline":"alphabetic"},"encoding":{"y":{"field":"price","type":"quantitative"},"text":{"field":"label"}}},
{"data":{"name":"notes"},"transform":[{"filter":"datum.group=='dotcom'"}],"mark":{"type":"text","fontSize":14,"color":"#888","align":"left","baseline":"alphabetic"},"encoding":{"y":{"field":"price","type":"quantitative"},"text":{"field":"label"}}},
{"data":{"values":[{"start":"2021-12-29","end":"2022-02-10","low":55.0,"high":57.4}]},
"mark":{"type":"rect","color":"#4a78ea"},"encoding":{"x":{"field":"start","type":"temporal"},"x2":{"field":"end"},"y":{"field":"low","type":"quantitative"},"y2":{"field":"high"}}},
{"data":{"values":[{"mid":"2022-01-19","last":56.25,"label":"56.25"}]},
"mark":{"type":"text","color":"white","fontSize":11.5,"align":"center","baseline":"middle"},"encoding":{"x":{"field":"mid","type":"temporal"},"y":{"field":"last","type":"quantitative"},"text":{"field":"label"}}}
]
}
